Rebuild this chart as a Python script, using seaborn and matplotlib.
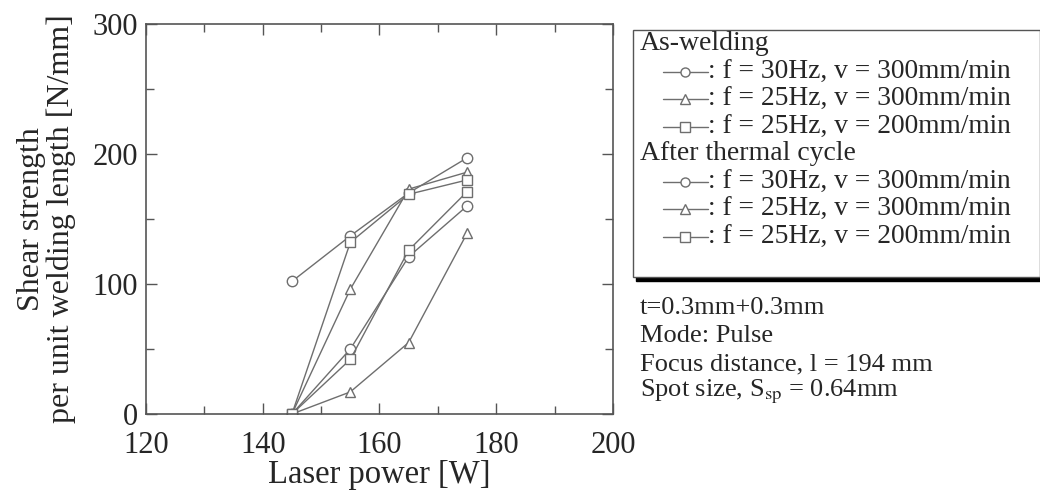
import matplotlib
matplotlib.use("Agg")
import matplotlib.pyplot as plt
from matplotlib.lines import Line2D
from matplotlib.patches import Rectangle
import seaborn as sns

# =============================
# Données
# =============================
laser_power = [145, 155, 165, 175]

as_f30_v300 = [102, 137, 170, 197]
as_f25_v300 = [0, 96, 173, 186]
as_f25_v200 = [0, 132, 169, 180]
tc_f30_v300 = [0, 50, 121, 160]
tc_f25_v300 = [0, 17, 55, 139]
tc_f25_v200 = [0, 42, 126, 171]

series = [
    (as_f30_v300, "o"), (as_f25_v300, "^"), (as_f25_v200, "s"),
    (tc_f30_v300, "o"), (tc_f25_v300, "^"), (tc_f25_v200, "s"),
]
legend_labels = [": f = 30Hz, v = 300mm/min",
                 ": f = 25Hz, v = 300mm/min",
                 ": f = 25Hz, v = 200mm/min"]
notes = ["t=0.3mm+0.3mm", "Mode: Pulse", "Focus distance, l = 194 mm",
         "Spot size, S$_{\\mathrm{sp}}$ = 0.64mm"]

# =============================
# Style
# =============================
sns.set_style("ticks")
plt.rcParams["font.family"] = ["Liberation Serif", "DejaVu Serif"]
plt.rcParams["mathtext.fontset"] = "stix"

line_col = "#6e6e6e"

fig = plt.figure(figsize=(10.4, 4.95), dpi=100)
ax = fig.add_axes([0.1404, 0.1636, 0.449, 0.788])

for vals, mk in series:
    sns.lineplot(x=laser_power, y=vals, ax=ax, color=line_col, lw=1.0,
                 marker=mk, markersize=7.5, markerfacecolor="white",
                 markeredgecolor=line_col, markeredgewidth=1.0)

ax.set_xlim(120, 200)
ax.set_ylim(0, 300)
ax.set_xticks([120, 140, 160, 180, 200])
ax.set_xticks([130, 150, 170, 190], minor=True)
ax.set_yticks([0, 100, 200, 300])
ax.set_yticks([50, 150, 250], minor=True)
ax.tick_params(which="both", direction="in", top=True, right=True,
               labelsize=22, color="#555555", width=1.0)
ax.tick_params(which="major", length=8)
ax.tick_params(which="minor", length=5.5)
ax.tick_params(axis="x", pad=12)
ax.tick_params(axis="y", pad=6)
for s in ax.spines.values():
    s.set_color("#555555")
    s.set_linewidth(1.2)

ax.set_xlabel("Laser power [W]", fontsize=23.5, labelpad=0)
ax.set_ylabel("Shear strength\nper unit welding length [N/mm]",
              fontsize=23, linespacing=1.02, labelpad=12)

# =============================
# Légende manuelle
# =============================
x0, x1 = 633 / 1040, 1040 / 1040
y_top, y_bot = 1 - 30 / 495, 1 - 277 / 495
fig.patches.append(Rectangle((x0 + 0.003, y_bot - 0.008), x1 - x0, y_top - y_bot,
                             transform=fig.transFigure, facecolor="black",
                             edgecolor="black", zorder=1))
fig.patches.append(Rectangle((x0, y_bot), x1 - x0, y_top - y_bot,
                             transform=fig.transFigure, facecolor="white",
                             edgecolor="#555555", lw=1.0, zorder=2))

row_y = [44, 72, 99, 127, 154, 182, 209, 237]
fig.text(640 / 1040, 1 - row_y[0] / 495, "As-welding", fontsize=20,
         va="center", ha="left", zorder=3)
fig.text(640 / 1040, 1 - row_y[4] / 495, "After thermal cycle", fontsize=20,
         va="center", ha="left", zorder=3)
markers = ["o", "^", "s"]
for grp, base in enumerate([1, 5]):
    for i in range(3):
        y = 1 - row_y[base + i] / 495
        fig.add_artist(Line2D([663 / 1040, 708 / 1040], [y, y],
                              transform=fig.transFigure, color=line_col, lw=1.0,
                              zorder=3))
        fig.add_artist(Line2D([685 / 1040], [y], transform=fig.transFigure,
                              marker=markers[i], markersize=6.5,
                              markerfacecolor="white", markeredgecolor=line_col,
                              markeredgewidth=1.0, lw=0, zorder=4))
        fig.text(708 / 1040, y, legend_labels[i], fontsize=19.8,
                 va="center", ha="left", zorder=3)

# Notes
for i, t in enumerate(notes):
    fig.text(640 / 1040, 1 - (308 + i * 28) / 495, t, fontsize=19,
             va="center", ha="left")

fig.savefig("out.png", dpi=100)
